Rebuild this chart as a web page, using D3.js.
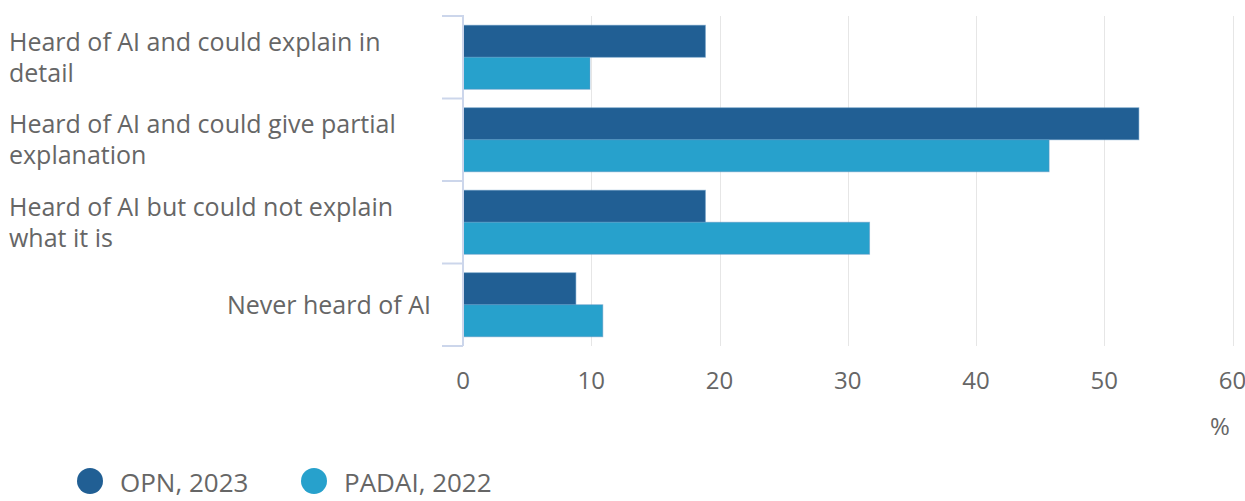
<!DOCTYPE html>
<html lang="en">
<head>
<meta charset="utf-8">
<style>
    body { margin: 0; background: #fff; }
    svg { display: block; font-family: "Open Sans", sans-serif; }
    .grid line { stroke: #e6e6e6; stroke-width: 1px; }
    .tick-label { fill: #666666; font-size: 24px; }
    .cat-label { fill: #666666; font-size: 25px; }
    .legend text { fill: #666666; font-size: 26px; }
</style>
</head>
<body>
<svg width="1245" height="501"></svg>
<script src="https://cdn.jsdelivr.net/npm/d3@7"></script>
<script>
    // chart data
    var categories = [
        "Heard of AI and could explain in detail",
        "Heard of AI and could give partial explanation",
        "Heard of AI but could not explain what it is",
        "Never heard of AI"
    ];
    var seriesNames = ["OPN, 2023", "PADAI, 2022"];
    var opn2023 = [18.9, 52.7, 18.9, 8.8];
    var padai2022 = [9.9, 45.7, 31.7, 10.9];
    var xTicks = [0, 10, 20, 30, 40, 50, 60];
    var colors = ["#215f94", "#27a1cc"];

    var svg = d3.select("svg");
    var margin = {top: 16, left: 463, right: 12.5},
        plotH = 330;

    var x = d3.scaleLinear().domain([0, 60]).range([margin.left, 1245 - margin.right]);
    var y = d3.scaleBand().domain(categories).range([margin.top, margin.top + plotH]).paddingInner(0).paddingOuter(0);
    var inner = d3.scaleBand().domain([0, 1]).range([0, y.bandwidth()]).paddingOuter(0.289).paddingInner(0);

    // gridlines
    svg.append("g").attr("class", "grid")
        .selectAll("line").data(xTicks.slice(1)).enter().append("line")
        .attr("x1", function (d) { return Math.round(x(d)) + 0.5; })
        .attr("x2", function (d) { return Math.round(x(d)) + 0.5; })
        .attr("y1", margin.top)
        .attr("y2", margin.top + plotH);

    // bars
    var series = [opn2023, padai2022];
    series.forEach(function (vals, si) {
        svg.append("g").selectAll("rect").data(vals).enter().append("rect")
            .attr("x", x(0))
            .attr("y", function (d, i) { return y(categories[i]) + inner(si); })
            .attr("width", function (d) { return x(d) - x(0); })
            .attr("height", inner.bandwidth())
            .attr("fill", colors[si])
            .attr("stroke", "#5b93c2")
            .attr("stroke-opacity", 0.5)
            .attr("stroke-width", 1);
    });

    // category axis
    var yAxis = svg.append("g");
    yAxis.append("line")
        .attr("x1", margin.left).attr("x2", margin.left)
        .attr("y1", margin.top - 1).attr("y2", margin.top + plotH)
        .attr("stroke", "#ccd6eb").attr("stroke-width", 2);
    var tickPos = categories.map(function (c) { return y(c); }).concat([margin.top + plotH]);
    yAxis.selectAll(".ytick").data(tickPos).enter().append("line")
        .attr("x1", margin.left - 21).attr("x2", margin.left)
        .attr("y1", function (d) { return d; }).attr("y2", function (d) { return d; })
        .attr("stroke", "#ccd6eb").attr("stroke-width", 2);

    var lineH = 31, maxW = 410;
    categories.forEach(function (c) {
        var t = yAxis.append("text").attr("class", "cat-label");
        var words = c.split(" "), lines = [], cur = [];
        words.forEach(function (w) {
            cur.push(w);
            t.text(cur.join(" "));
            if (t.node().getComputedTextLength() > maxW && cur.length > 1) {
                cur.pop();
                lines.push(cur.join(" "));
                cur = [w];
            }
        });
        lines.push(cur.join(" "));
        t.text(null);
        var cy = y(c) + y.bandwidth() / 2;
        var multi = lines.length > 1;
        t.attr("text-anchor", multi ? "start" : "end");
        lines.forEach(function (l, i) {
            t.append("tspan")
                .attr("x", multi ? 9 : 431)
                .attr("y", cy + (i - (lines.length - 1) / 2) * lineH + 9)
                .text(l);
        });
    });

    // x axis labels
    svg.append("g").selectAll("text").data(xTicks).enter().append("text")
        .attr("class", "tick-label")
        .attr("text-anchor", "middle")
        .attr("x", function (d) { return x(d); })
        .attr("y", 389)
        .text(function (d) { return d; });

    svg.append("text").attr("class", "tick-label")
        .attr("text-anchor", "middle")
        .attr("x", 1220).attr("y", 435)
        .text("%");

    // legend
    var legendX = [90, 314];
    var legend = svg.append("g").attr("class", "legend");
    seriesNames.forEach(function (n, i) {
        legend.append("circle").attr("cx", legendX[i]).attr("cy", 481).attr("r", 13).attr("fill", colors[i]);
        legend.append("text").attr("x", legendX[i] + 30).attr("y", 492).text(n);
    });
</script>
</body>
</html>
